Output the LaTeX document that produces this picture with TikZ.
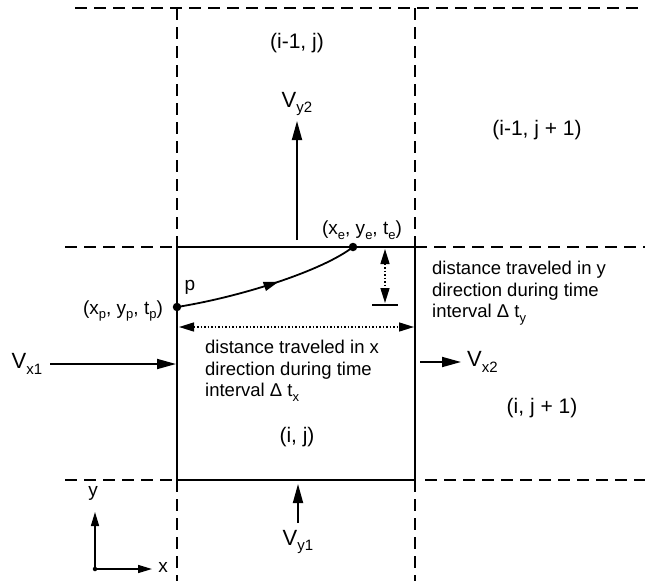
\documentclass[tikz,border=0pt]{standalone}
\usepackage{fontspec}
\setmainfont{Liberation Sans}
\usetikzlibrary{arrows.meta,decorations.markings}
\newcommand\sbx[1]{\raisebox{-0.45ex}{\fontsize{13}{13}\selectfont #1}}
\newcommand\sbv[1]{\raisebox{-0.5ex}{\fontsize{15}{15}\selectfont #1}}
\begin{document}
\begin{tikzpicture}[x=1pt,y=-1pt,
  body/.style={font=\fontsize{18.5}{21.5}\selectfont, inner sep=0pt, align=left},
  cellname/.style={font=\fontsize{21}{21}\selectfont, inner sep=0pt},
  coordlbl/.style={font=\fontsize{19}{19}\selectfont, inner sep=0pt},
  vlbl/.style={font=\fontsize{22}{22}\selectfont, inner sep=0pt},
  gridline/.style={line width=2pt, dash pattern=on 12pt off 7pt},
  cellline/.style={line width=2pt},
  arr/.style={line width=1.8pt, -{Triangle[length=19pt,width=10pt]}},
  smallarr/.style={line width=1.5pt, -{Triangle[length=14pt,width=8pt]}},
  dotarr/.style={line width=1.5pt, dotted, {Triangle[length=15pt,width=9pt]}-{Triangle[length=15pt,width=9pt]}},
  dot/.style={circle, fill, inner sep=0pt, minimum size=8.5pt},
]
\useasboundingbox (0,0) rectangle (645,581);
\fill[white] (0,0) rectangle (645,581);
% cell corners
\coordinate (TL) at (177,247);
\coordinate (TR) at (415,247);
\coordinate (BL) at (177,480);
\coordinate (BR) at (415,480);
% grid (dashed)
\draw[gridline] (75,8) -- (645,8);
\draw[gridline] (65,247) -- (TL);
\draw[gridline] (TR) -- (645,247);
\draw[gridline] (65,480) -- (BL);
\draw[gridline] (425,480) -- (645,480);
\draw[gridline] (177,8) -- (TL);
\draw[gridline] (BL) -- (177,581);
\draw[gridline] (415,8) -- (TR);
\draw[gridline] (BR) -- (415,581);
% the cell
\draw[cellline] (TL) rectangle (BR);
% cell names
\node[cellname] (cA) at (297,43) {(i-1, j)};
\node[cellname] (cB) at (537,130) {(i-1, j + 1)};
\node[cellname] (cC) at (542,408) {(i, j + 1)};
\node[cellname] (cD) at (297,437) {(i, j)};
% velocities
\node[vlbl] (vy2) at (297,104) {V\sbv{y2}};
\coordinate (vy2a) at (297,240);
\coordinate (vy2b) at (297,121);
\draw[arr] (vy2a) -- (vy2b);
\node[vlbl] (vy1) at (298,542) {V\sbv{y1}};
\coordinate (vy1a) at (298,523);
\coordinate (vy1b) at (298,484);
\draw[arr] (vy1a) -- (vy1b);
\node[vlbl] (vx1) at (27,364) {V\sbv{x1}};
\coordinate (vx1a) at (50,364);
\coordinate (vx1b) at (176,364);
\draw[arr] (vx1a) -- (vx1b);
\node[vlbl, anchor=west] (vx2) at (467,362) {V\sbv{x2}};
\coordinate (vx2a) at (420,362);
\coordinate (vx2b) at (461,362);
\draw[arr] (vx2a) -- (vx2b);
% trajectory
\node[dot] (p) at (177,307) {};
\node[dot] (e) at (353,247) {};
\draw[line width=1.8pt, postaction=decorate,
  decoration={markings, mark=at position 0.56 with {\arrow{Triangle[length=15pt,width=9pt]}}}]
  (p.center) .. controls (240,297) and (322,271) .. (e.center);
\node[coordlbl] (plbl) at (190,287) {p};
\node[coordlbl] (pxy) at (123,311) {(x\sbx{p}, y\sbx{p}, t\sbx{p})};
\node[coordlbl] (exy) at (362,230) {(x\sbx{e}, y\sbx{e}, t\sbx{e})};
% distance in y
\coordinate (dya) at (385,249);
\coordinate (dyb) at (385,303);
\draw[dotarr] (dya) -- (dyb);
\coordinate (bara) at (372,305);
\coordinate (barb) at (398,305);
\draw[line width=2pt] (bara) -- (barb);
\node[body, anchor=north west] (ty) at (432,261) {distance traveled in y\\direction during time\\interval Δ t\sbx{y}};
% distance in x
\coordinate (dxa) at (179,327);
\coordinate (dxb) at (414,327);
\draw[dotarr] (dxa) -- (dxb);
\node[body, anchor=north west] (tx) at (205,340) {distance traveled in x\\direction during time\\interval Δ t\sbx{x}};
% axes
\node[circle, fill, inner sep=0pt, minimum size=4.5pt] (O) at (95,569) {};
\coordinate (Y) at (95,512);
\coordinate (X) at (152,569);
\draw[smallarr] (O.center) -- (Y);
\draw[smallarr] (O.center) -- (X);
\node[coordlbl] (xl) at (163,567) {x};
\node[coordlbl] (yl) at (93,493) {y};
\end{tikzpicture}
\end{document}
